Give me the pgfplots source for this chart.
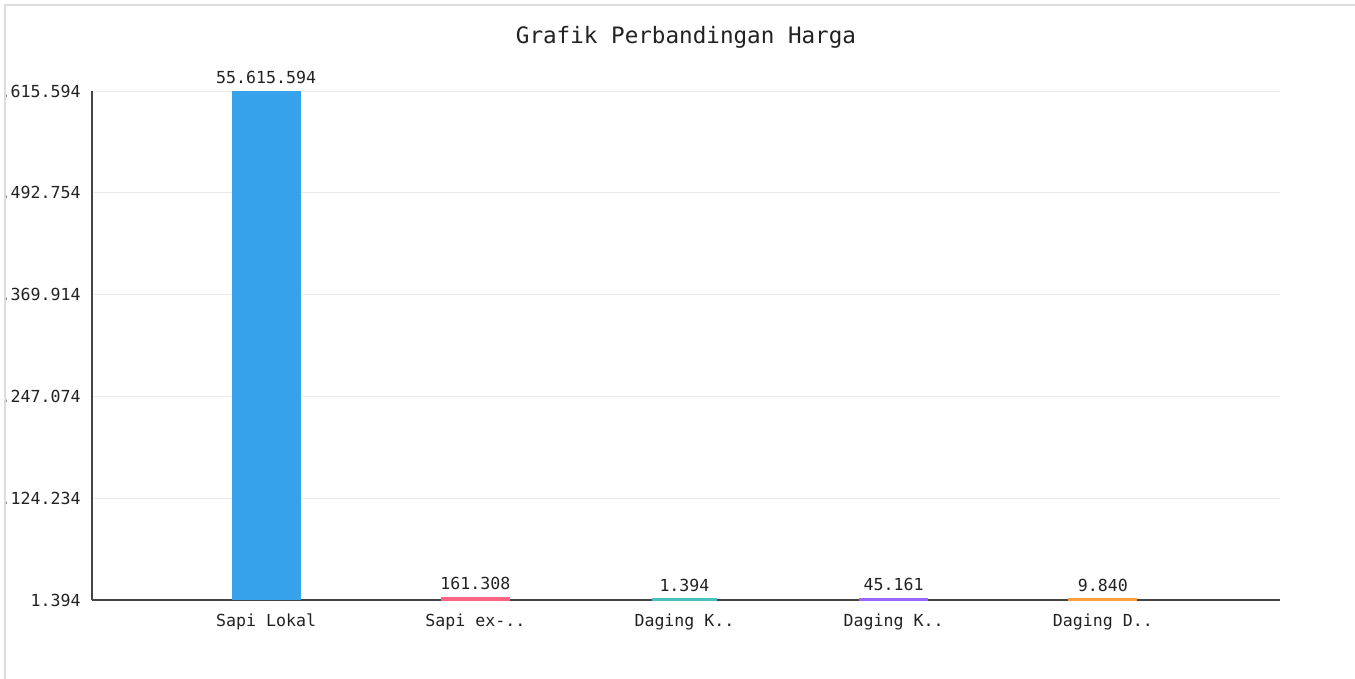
\documentclass[border=0pt]{standalone}
\usepackage{pgfplots}
\pgfplotsset{compat=1.18}
\usepackage{fontspec}
\newfontfamily\monof{DejaVu Sans Mono}
\definecolor{cblue}{HTML}{36A2EB}
\definecolor{cpink}{HTML}{FF6384}
\definecolor{cteal}{HTML}{4BC0C0}
\definecolor{cpurple}{HTML}{9966FF}
\definecolor{corange}{HTML}{FF9F40}
\definecolor{lgray}{HTML}{DDDDDD}
\definecolor{gridc}{HTML}{EBEBEB}
\definecolor{axc}{HTML}{444444}
\definecolor{txt}{HTML}{222222}
\begin{document}
\begin{tikzpicture}
\useasboundingbox (0pt,0pt) rectangle (677.5pt,-339.5pt);
\fill[white] (0pt,0pt) rectangle (677.5pt,-339.5pt);
\draw[lgray, line width=1pt] (2.5pt,-339.5pt) -- (2.5pt,-2.5pt) -- (677.5pt,-2.5pt);
\node[font=\monof\fontsize{11.3}{13}\selectfont, text=txt] at (343pt,-18.5pt) {Grafik Perbandingan Harga};
\begin{scope}
\clip (3pt,-3pt) rectangle (677.5pt,-339.5pt);
\begin{axis}[
  at={(46pt,-300pt)}, anchor=south west,
  scale only axis, width=594pt, height=254.5pt,
  xmin=-0.8325, xmax=4.847,
  ymin=1394, ymax=55615594,
  ybar,
  scaled y ticks=false,
  axis lines*=left,
  axis line style={-, draw=axc, line width=1pt},
  major tick length=0pt,
  ymajorgrids, grid style={gridc, line width=0.5pt},
  xtick={0,1,2,3,4},
  xticklabels={Sapi Lokal, Sapi ex-.., Daging K.., Daging K.., Daging D..},
  ytick={1394,11124234,22247074,33369914,44492754,55615594},
  yticklabels={1.394,11.124.234,22.247.074,33.369.914,44.492.754,55.615.594},
  ticklabel style={font=\monof\fontsize{8.3}{10}\selectfont, text=txt},
  yticklabel style={anchor=east, xshift=-2.2pt},
  xticklabel style={yshift=-3.2pt},
  nodes near coords,
  point meta=explicit symbolic,
  nodes near coords style={font=\monof\fontsize{8.3}{10}\selectfont, text=txt},
]
\addplot[fill=cblue, draw=none, bar width=34.5pt, bar shift=0pt] table[x=x,y=y,meta=lab] {
x y lab
0 55615594 55.615.594
};
\addplot[fill=cpink, draw=cpink, line width=2pt, bar width=32.5pt, bar shift=0pt] table[x=x,y=y,meta=lab] {
x y lab
1 161308 161.308
};
\addplot[fill=cteal, draw=cteal, line width=2pt, bar width=32.5pt, bar shift=0pt] table[x=x,y=y,meta=lab] {
x y lab
2 1394 1.394
};
\addplot[fill=cpurple, draw=cpurple, line width=2pt, bar width=32.5pt, bar shift=0pt] table[x=x,y=y,meta=lab] {
x y lab
3 45161 45.161
};
\addplot[fill=corange, draw=corange, line width=2pt, bar width=32.5pt, bar shift=0pt] table[x=x,y=y,meta=lab] {
x y lab
4 9840 9.840
};
\end{axis}
\end{scope}
\end{tikzpicture}
\end{document}
